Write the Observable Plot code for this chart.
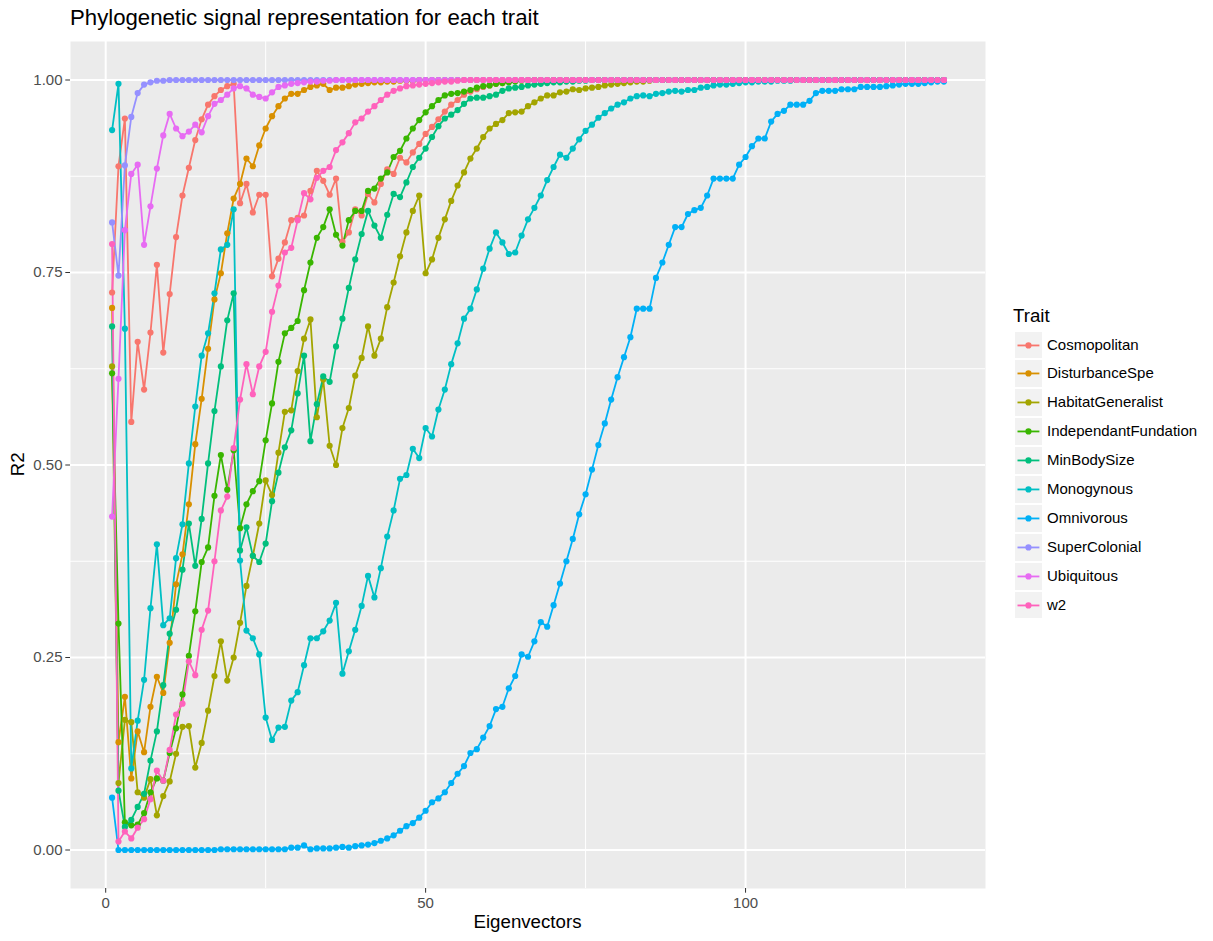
<!DOCTYPE html>
<html>
<head>
<meta charset="utf-8">
<script src="https://cdn.jsdelivr.net/npm/d3@7"></script>
<script src="https://cdn.jsdelivr.net/npm/@observablehq/plot@0.6"></script>
<style>
  body { margin: 0; background: #fff; font-family: "Liberation Sans", Arial, Helvetica, sans-serif; }
  #wrap { position: relative; width: 1213px; height: 941px; overflow: hidden; }
  #chart { position: absolute; left: 0; top: 0; }
  .txt { position: absolute; white-space: nowrap; color: #000; }
  #title { left: 70px; top: 7.2px; font-size: 22.2px; line-height: 22.2px; }
  #xlab { left: 70px; width: 915px; top: 912.7px; font-size: 18.7px; line-height: 18.7px; text-align: center; }
  #ylab { left: -404.95px; top: 455.15px; width: 847px; height: 18.7px; font-size: 18.7px; line-height: 18.7px; text-align: center; transform: rotate(-90deg); }
  #legtitle { left: 1013px; top: 306.6px; font-size: 18.7px; line-height: 18.7px; }
  .key { position: absolute; box-sizing: border-box; background: #F2F2F2; border: 1px solid #fff; }
  .leglab { position: absolute; font-size: 15px; white-space: nowrap; color: #000; }
</style>
</head>
<body>
<div id="wrap">
  <div id="chart"></div>
  <div id="title" class="txt">Phylogenetic signal representation for each trait</div>
  <div id="xlab" class="txt">Eigenvectors</div>
  <div id="ylab" class="txt">R2</div>
  <div id="legtitle" class="txt">Trait</div>
</div>
<script>
// ---- categories ----
const traits = ["Cosmopolitan","DisturbanceSpe","HabitatGeneralist","IndependantFundation","MinBodySize","Monogynous","Omnivorous","SuperColonial","Ubiquitous","w2"];
const colors = ["#F8766D","#D89000","#A3A500","#39B600","#00BF7D","#00BFC4","#00B0F6","#9590FF","#E76BF3","#FF62BC"];

// ---- tick labels ----
const xTicks = [0, 50, 100];
const xMinor = [25, 75, 125];
const yTicks = [0, 0.25, 0.5, 0.75, 1];
const yMinor = [0.125, 0.375, 0.625, 0.875];

// ---- series values (R2 for eigenvectors 1..131) ----
const cosmopolitan = [
0.724,0.888,0.950,0.556,0.660,0.598,0.672,0.760,0.646,0.722,
0.796,0.850,0.886,0.922,0.949,0.968,0.979,0.987,0.992,0.995,
0.840,0.865,0.828,0.851,0.851,0.745,0.768,0.789,0.818,0.821,
0.824,0.856,0.882,0.869,0.851,0.872,0.790,0.802,0.832,0.824,
0.852,0.841,0.865,0.884,0.878,0.899,0.893,0.906,0.917,0.930,
0.939,0.949,0.959,0.968,0.974,0.981,0.985,0.988,0.991,0.993,
0.995,0.996,0.998,0.999,1,1,1,1,1,1,
1,1,1,1,1,1,1,1,1,1,
1,1,1,1,1,1,1,1,1,1,
1,1,1,1,1,1,1,1,1,1,
1,1,1,1,1,1,1,1,1,1,
1,1,1,1,1,1,1,1,1,1,
1,1,1,1,1,1,1,1,1,1,
1];
const disturbanceSpe = [
0.704,0.140,0.199,0.093,0.154,0.127,0.186,0.225,0.204,0.269,
0.345,0.384,0.449,0.527,0.586,0.651,0.715,0.749,0.801,0.846,
0.865,0.898,0.888,0.915,0.937,0.953,0.966,0.976,0.982,0.982,
0.987,0.991,0.993,0.995,0.987,0.990,0.990,0.992,0.994,0.995,
0.996,0.997,0.997,0.998,0.998,0.999,0.999,0.999,1,1,
1,1,1,1,1,1,1,1,1,1,
1,1,1,1,1,1,1,1,1,1,
1,1,1,1,1,1,1,1,1,1,
1,1,1,1,1,1,1,1,1,1,
1,1,1,1,1,1,1,1,1,1,
1,1,1,1,1,1,1,1,1,1,
1,1,1,1,1,1,1,1,1,1,
1,1,1,1,1,1,1,1,1,1,
1];
const habitatGeneralist = [
0.628,0.087,0.169,0.166,0.075,0.068,0.092,0.045,0.070,0.089,
0.125,0.160,0.161,0.107,0.139,0.181,0.226,0.271,0.220,0.250,
0.295,0.343,0.382,0.424,0.480,0.461,0.516,0.569,0.571,0.622,
0.664,0.689,0.562,0.611,0.525,0.500,0.548,0.574,0.616,0.639,
0.680,0.642,0.664,0.705,0.737,0.771,0.802,0.830,0.850,0.749,
0.767,0.795,0.819,0.843,0.863,0.880,0.898,0.911,0.926,0.937,
0.943,0.948,0.957,0.958,0.959,0.966,0.971,0.976,0.980,0.980,
0.984,0.985,0.988,0.987,0.989,0.990,0.991,0.993,0.994,0.995,
0.996,0.997,0.998,0.998,0.999,1,1,1,1,1,
1,1,1,1,1,1,1,1,1,1,
1,1,1,1,1,1,1,1,1,1,
1,1,1,1,1,1,1,1,1,1,
1,1,1,1,1,1,1,1,1,1,
1];
const independantFundation = [
0.619,0.294,0.036,0.032,0.033,0.048,0.075,0.093,0.090,0.126,
0.158,0.202,0.252,0.310,0.374,0.393,0.460,0.513,0.468,0.519,
0.418,0.449,0.466,0.479,0.532,0.580,0.634,0.671,0.678,0.687,
0.727,0.763,0.795,0.809,0.832,0.799,0.785,0.818,0.830,0.830,
0.856,0.859,0.872,0.880,0.900,0.908,0.924,0.937,0.948,0.958,
0.966,0.974,0.980,0.982,0.983,0.985,0.987,0.990,0.992,0.993,
0.995,0.996,0.997,0.998,0.999,1,1,1,1,1,
1,1,1,1,1,1,1,1,1,1,
1,1,1,1,1,1,1,1,1,1,
1,1,1,1,1,1,1,1,1,1,
1,1,1,1,1,1,1,1,1,1,
1,1,1,1,1,1,1,1,1,1,
1,1,1,1,1,1,1,1,1,1,
1];
const minBodySize = [
0.680,0.077,0.030,0.039,0.056,0.073,0.116,0.154,0.214,0.281,
0.312,0.364,0.424,0.369,0.430,0.502,0.570,0.628,0.688,0.723,
0.389,0.419,0.382,0.374,0.398,0.453,0.490,0.523,0.545,0.593,
0.642,0.531,0.579,0.615,0.608,0.654,0.690,0.730,0.767,0.800,
0.830,0.811,0.795,0.825,0.852,0.848,0.867,0.887,0.899,0.911,
0.926,0.940,0.950,0.955,0.961,0.969,0.976,0.977,0.977,0.979,
0.981,0.986,0.989,0.990,0.991,0.993,0.994,0.995,0.996,0.997,
0.997,0.998,0.998,0.999,0.999,1,1,1,1,1,
1,1,1,1,1,1,1,1,1,1,
1,1,1,1,1,1,1,1,1,1,
1,1,1,1,1,1,1,1,1,1,
1,1,1,1,1,1,1,1,1,1,
1,1,1,1,1,1,1,1,1,1,
1];
const monogynous = [
0.935,0.995,0.677,0.106,0.168,0.221,0.314,0.397,0.292,0.301,
0.379,0.423,0.502,0.576,0.642,0.671,0.723,0.780,0.786,0.832,
0.376,0.285,0.275,0.254,0.172,0.143,0.159,0.160,0.194,0.205,
0.240,0.275,0.275,0.284,0.298,0.321,0.229,0.258,0.286,0.317,
0.356,0.328,0.366,0.407,0.441,0.482,0.487,0.521,0.509,0.548,
0.537,0.572,0.598,0.631,0.658,0.690,0.703,0.728,0.755,0.781,
0.802,0.789,0.774,0.776,0.798,0.819,0.834,0.850,0.870,0.887,
0.903,0.899,0.911,0.923,0.934,0.942,0.951,0.957,0.963,0.968,
0.971,0.976,0.979,0.980,0.979,0.982,0.983,0.985,0.986,0.985,
0.987,0.987,0.990,0.991,0.993,0.994,0.994,0.995,0.996,0.997,
0.997,0.998,0.998,0.998,0.999,0.999,0.999,1,1,1,
1,1,1,1,1,1,1,1,1,1,
1,1,1,1,1,1,1,1,1,1,
1];
const omnivorous = [
0.068,0,0,0,0,0,0,0,0,0,
0,0,0,0,0,0,0,0.001,0.001,0.001,
0.001,0.001,0.001,0.001,0.001,0.001,0.001,0.001,0.003,0.003,
0.006,0.001,0.002,0.002,0.002,0.003,0.004,0.003,0.005,0.006,
0.007,0.009,0.012,0.015,0.019,0.025,0.031,0.035,0.042,0.051,
0.062,0.067,0.075,0.087,0.099,0.109,0.126,0.131,0.146,0.161,
0.183,0.186,0.210,0.226,0.254,0.251,0.271,0.296,0.290,0.318,
0.346,0.375,0.404,0.436,0.462,0.494,0.526,0.554,0.585,0.614,
0.640,0.666,0.703,0.703,0.703,0.743,0.763,0.786,0.809,0.809,
0.826,0.831,0.834,0.850,0.872,0.872,0.872,0.872,0.890,0.900,
0.914,0.924,0.924,0.946,0.956,0.960,0.968,0.968,0.968,0.973,
0.983,0.986,0.986,0.986,0.988,0.988,0.988,0.991,0.991,0.991,
0.991,0.992,0.993,0.994,0.995,0.995,0.995,0.996,0.997,0.998,
0.998];
const superColonial = [
0.815,0.746,0.889,0.952,0.983,0.994,0.997,0.999,0.999,1,
1,1,1,1,1,1,1,1,1,1,
1,1,1,1,1,1,1,1,1,1,
1,1,1,1,1,1,1,1,1,1,
1,1,1,1,1,1,1,1,1,1,
1,1,1,1,1,1,1,1,1,1,
1,1,1,1,1,1,1,1,1,1,
1,1,1,1,1,1,1,1,1,1,
1,1,1,1,1,1,1,1,1,1,
1,1,1,1,1,1,1,1,1,1,
1,1,1,1,1,1,1,1,1,1,
1,1,1,1,1,1,1,1,1,1,
1,1,1,1,1,1,1,1,1,1,
1];
const ubiquitous = [
0.433,0.612,0.805,0.878,0.890,0.786,0.836,0.885,0.928,0.956,
0.937,0.927,0.933,0.942,0.932,0.953,0.969,0.974,0.981,0.989,
0.992,0.989,0.981,0.978,0.976,0.984,0.991,0.993,0.995,0.996,
0.997,0.998,0.998,0.999,0.999,1,1,1,1,1,
1,1,1,1,1,1,1,1,1,1,
1,1,1,1,1,1,1,1,1,1,
1,1,1,1,1,1,1,1,1,1,
1,1,1,1,1,1,1,1,1,1,
1,1,1,1,1,1,1,1,1,1,
1,1,1,1,1,1,1,1,1,1,
1,1,1,1,1,1,1,1,1,1,
1,1,1,1,1,1,1,1,1,1,
1,1,1,1,1,1,1,1,1,1,
1];
const w2 = [
0.787,0.011,0.024,0.015,0.029,0.040,0.066,0.103,0.090,0.130,
0.176,0.190,0.245,0.227,0.286,0.311,0.375,0.441,0.459,0.522,
0.585,0.631,0.592,0.628,0.647,0.699,0.733,0.776,0.782,0.818,
0.853,0.845,0.873,0.882,0.887,0.909,0.919,0.931,0.945,0.950,
0.959,0.966,0.974,0.981,0.986,0.989,0.992,0.993,0.994,0.995,
0.996,0.997,0.998,0.998,0.999,1,1,1,1,1,
1,1,1,1,1,1,1,1,1,1,
1,1,1,1,1,1,1,1,1,1,
1,1,1,1,1,1,1,1,1,1,
1,1,1,1,1,1,1,1,1,1,
1,1,1,1,1,1,1,1,1,1,
1,1,1,1,1,1,1,1,1,1,
1,1,1,1,1,1,1,1,1,1,
1];

const seriesValues = [cosmopolitan, disturbanceSpe, habitatGeneralist, independantFundation, minBodySize, monogynous, omnivorous, superColonial, ubiquitous, w2];

const data = traits.flatMap((t, i) => seriesValues[i].map((v, j) => ({eigen: j + 1, r2: v, trait: t})));

const chart = Plot.plot({
  width: 1213,
  height: 941,
  marginLeft: 70,
  marginRight: 228,
  marginTop: 41,
  marginBottom: 53,
  style: {background: "#fff", fontFamily: '"Liberation Sans", Arial, Helvetica, sans-serif', color: "#4D4D4D", overflow: "visible"},
  x: {domain: [-5.5, 137.5]},
  y: {domain: [-0.05, 1.05]},
  color: {domain: traits, range: colors},
  marks: [
    Plot.frame({fill: "#EBEBEB", stroke: null}),
    Plot.ruleX(xMinor, {stroke: "#fff", strokeWidth: 1}),
    Plot.ruleY(yMinor, {stroke: "#fff", strokeWidth: 1}),
    Plot.ruleX(xTicks, {stroke: "#fff", strokeWidth: 2}),
    Plot.ruleY(yTicks, {stroke: "#fff", strokeWidth: 2}),
    Plot.line(data, {x: "eigen", y: "r2", z: "trait", stroke: "trait", strokeWidth: 1.8}),
    Plot.dot(data, {x: "eigen", y: "r2", fill: "trait", r: 3.1}),
    Plot.axisX(xTicks, {tickSize: 4.7, tickPadding: 4, fontSize: 15, color: "#4D4D4D", stroke: "#333333", label: null, tickFormat: d => String(d)}),
    Plot.axisY(yTicks, {tickSize: 4.7, tickPadding: 3.3, fontSize: 15, color: "#4D4D4D", stroke: "#333333", label: null, tickFormat: d3.format(".2f")})
  ]
});
document.getElementById("chart").appendChild(chart);

// ---- legend ----
const wrap = document.getElementById("wrap");
const keyTop = 330.5, keyStep = 28.9, keyLeft = 1014, keySize = 28.9;
traits.forEach((t, i) => {
  const k = document.createElement("div");
  k.className = "key";
  k.style.left = keyLeft + "px";
  k.style.top = (keyTop + i * keyStep) + "px";
  k.style.width = keySize + "px";
  k.style.height = keySize + "px";
  k.innerHTML = `<svg width="${keySize - 2}" height="${keySize - 2}" style="display:block"><line x1="2.5" x2="${keySize - 4.5}" y1="${(keySize - 2) / 2}" y2="${(keySize - 2) / 2}" stroke="${colors[i]}" stroke-width="1.8"/><circle cx="${(keySize - 2) / 2}" cy="${(keySize - 2) / 2}" r="3.1" fill="${colors[i]}"/></svg>`;
  wrap.appendChild(k);
  const l = document.createElement("div");
  l.className = "leglab";
  l.textContent = t;
  l.style.left = "1047px";
  l.style.top = (keyTop + i * keyStep) + "px";
  l.style.height = keySize + "px";
  l.style.lineHeight = keySize + "px";
  wrap.appendChild(l);
});
</script>
</body>
</html>
